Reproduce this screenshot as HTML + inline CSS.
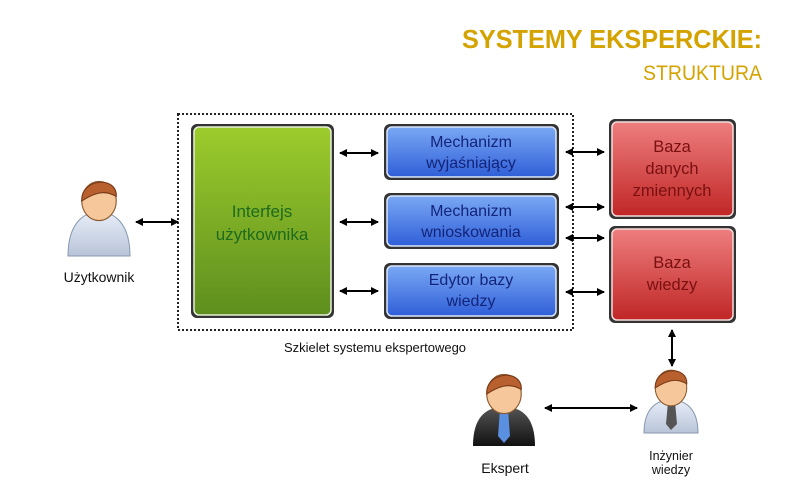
<!DOCTYPE html>
<html><head><meta charset="utf-8"><style>
html,body{margin:0;padding:0;background:#fff}
svg{display:block}
text{font-family:"Liberation Sans",sans-serif}
</style></head><body>
<svg width="795" height="491" viewBox="0 0 795 491" xmlns="http://www.w3.org/2000/svg">
<defs>
<linearGradient id="g" x1="0" y1="0" x2="0" y2="1"><stop offset="0" stop-color="#9ccc2c"/><stop offset="1" stop-color="#5e8e1e"/></linearGradient>
<linearGradient id="b" x1="0" y1="0" x2="0" y2="1"><stop offset="0" stop-color="#7aa8f4"/><stop offset="1" stop-color="#2f5fd8"/></linearGradient>
<linearGradient id="r" x1="0" y1="0" x2="0" y2="1"><stop offset="0" stop-color="#ee7e7e"/><stop offset="1" stop-color="#c02626"/></linearGradient>
<linearGradient id="dk" x1="0" y1="0" x2="0" y2="1"><stop offset="0" stop-color="#555"/><stop offset="1" stop-color="#111"/></linearGradient>
<linearGradient id="lt" x1="0" y1="0" x2="0" y2="1"><stop offset="0" stop-color="#e8eef8"/><stop offset="1" stop-color="#b8c4d8"/></linearGradient>
<marker id="a" markerWidth="8" markerHeight="8" refX="7" refY="4" orient="auto-start-reverse" markerUnits="userSpaceOnUse"><path d="M0,0 L8,4 L0,8 z" fill="#000"/></marker>
<g id="head"><ellipse cx="0" cy="0" rx="15" ry="17" fill="#f6c79a" stroke="#8a5a30" stroke-width="1"/><path d="M-15,0 C-16,-20 16,-22 15,-4 C8,-8 0,-10 -15,0z" fill="#b8612e" stroke="#7a3a18" stroke-width="1"/></g>
</defs>

<text x="762" y="48" text-anchor="end" font-size="26" font-weight="bold" fill="#d4a300" textLength="300" lengthAdjust="spacingAndGlyphs">SYSTEMY EKSPERCKIE:</text>
<text x="762" y="80" text-anchor="end" font-size="21" fill="#d4a300" textLength="119" lengthAdjust="spacingAndGlyphs">STRUKTURA</text>

<rect x="178" y="114" width="395" height="216" fill="none" stroke="#222" stroke-width="2" stroke-dasharray="2,2"/>

<rect x="191" y="124" width="143" height="194" rx="6" fill="#333"/>
<rect x="194" y="127" width="137" height="188" rx="5" fill="url(#g)" stroke="#e8f0d8" stroke-width="1.5"/>
<text x="262" y="217" text-anchor="middle" font-size="17" fill="#1e6a1e">Interfejs</text>
<text x="262" y="240" text-anchor="middle" font-size="17" fill="#1e6a1e">użytkownika</text>

<g font-size="16" fill="#13247a" text-anchor="middle">
<rect x="384" y="124" width="175" height="56" rx="6" fill="#333"/>
<rect x="387" y="127" width="169" height="50" rx="5" fill="url(#b)" stroke="#dde6f8" stroke-width="1.5"/>
<text x="471" y="147">Mechanizm</text><text x="471" y="168">wyjaśniający</text>
<rect x="384" y="193" width="175" height="56" rx="6" fill="#333"/>
<rect x="387" y="196" width="169" height="50" rx="5" fill="url(#b)" stroke="#dde6f8" stroke-width="1.5"/>
<text x="471" y="216">Mechanizm</text><text x="471" y="237">wnioskowania</text>
<rect x="384" y="263" width="175" height="56" rx="6" fill="#333"/>
<rect x="387" y="266" width="169" height="50" rx="5" fill="url(#b)" stroke="#dde6f8" stroke-width="1.5"/>
<text x="471" y="285">Edytor bazy</text><text x="471" y="306">wiedzy</text>
</g>

<g font-size="16.5" fill="#7a1010" text-anchor="middle">
<rect x="609" y="119" width="127" height="100" rx="6" fill="#333"/>
<rect x="612" y="122" width="121" height="94" rx="5" fill="url(#r)" stroke="#f6dcdc" stroke-width="1.5"/>
<text x="672" y="152">Baza</text><text x="672" y="174">danych</text><text x="672" y="196">zmiennych</text>
<rect x="609" y="226" width="127" height="97" rx="6" fill="#333"/>
<rect x="612" y="229" width="121" height="91" rx="5" fill="url(#r)" stroke="#f6dcdc" stroke-width="1.5"/>
<text x="672" y="268">Baza</text><text x="672" y="290">wiedzy</text>
</g>

<g stroke="#000" stroke-width="2" marker-start="url(#a)" marker-end="url(#a)">
<line x1="136" y1="222" x2="178" y2="222"/>
<line x1="340" y1="153" x2="378" y2="153"/>
<line x1="340" y1="222" x2="378" y2="222"/>
<line x1="340" y1="291" x2="378" y2="291"/>
<line x1="566" y1="152" x2="604" y2="152"/>
<line x1="566" y1="207" x2="604" y2="207"/>
<line x1="566" y1="238" x2="604" y2="238"/>
<line x1="566" y1="292" x2="604" y2="292"/>
<line x1="672" y1="330" x2="672" y2="366"/>
<line x1="545" y1="408" x2="637" y2="408"/>
</g>

<text x="375" y="352" text-anchor="middle" font-size="13" fill="#111">Szkielet systemu ekspertowego</text>

<!-- user -->
<path d="M68,256 C68,224 83,212 99,212 C115,212 130,224 130,256 Z" fill="url(#lt)" stroke="#8898b0"/>
<use href="#head" transform="translate(99,201) scale(1.15)"/>
<text x="99" y="282" text-anchor="middle" font-size="14" fill="#111">Użytkownik</text>

<!-- expert -->
<path d="M473,446 C473,416 487,407 504,407 C521,407 535,416 535,446 Z" fill="url(#dk)"/>
<path d="M500,409 L508,409 L510,436 L504,443 L498,436 Z" fill="#5b8fe0"/>
<use href="#head" transform="translate(504,394) scale(1.15)"/>
<text x="505" y="473" text-anchor="middle" font-size="14" fill="#111">Ekspert</text>

<!-- engineer -->
<path d="M644,433 C644,409 656,400 671,400 C686,400 698,409 698,433 Z" fill="url(#lt)" stroke="#8898b0"/>
<path d="M668,402 L675,402 L677,424 L671,430 L666,424 Z" fill="#555"/>
<use href="#head" transform="translate(671,388) scale(1.05)"/>
<text x="671" y="460" text-anchor="middle" font-size="12.5" fill="#111">Inżynier</text>
<text x="671" y="474" text-anchor="middle" font-size="12.5" fill="#111">wiedzy</text>
</svg>
</body></html>
